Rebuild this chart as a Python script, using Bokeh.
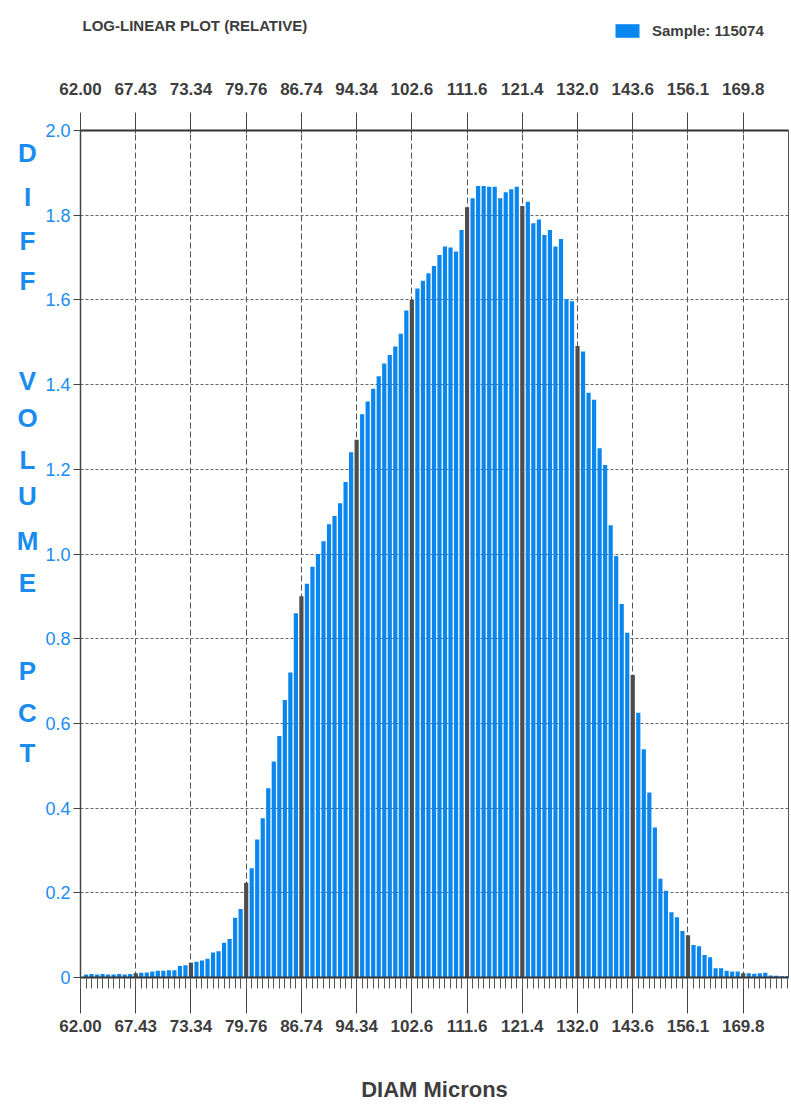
from bokeh.plotting import figure
from bokeh.models import (FixedTicker, LinearAxis, Legend, LegendItem,
                          ColumnDataSource, Range1d)
from bokeh.layouts import column, row
from bokeh.core.properties import value
from bokeh.embed import file_html
from bokeh.resources import INLINE

# ---------------- data ----------------
title_text = "LOG-LINEAR PLOT (RELATIVE)"
legend_text = "Sample: 115074"
x_title = "DIAM Microns"
y_title_letters = ["D", "I", "F", "F", "V", "O", "L", "U", "M", "E", "P", "C", "T"]

diam_tick_labels = ["62.00", "67.43", "73.34", "79.76", "86.74", "94.34", "102.6",
                    "111.6", "121.4", "132.0", "143.6", "156.1", "169.8"]
channels_per_label = 10

channel = list(range(1, 129))
diff_volume_pct = [
    0.007, 0.008, 0.007, 0.008, 0.007, 0.007, 0.008, 0.007, 0.008, 0.010,
    0.011, 0.012, 0.014, 0.016, 0.016, 0.017, 0.017, 0.027, 0.029, 0.035,
    0.037, 0.040, 0.044, 0.059, 0.062, 0.082, 0.091, 0.141, 0.162, 0.224,
    0.258, 0.326, 0.376, 0.447, 0.510, 0.570, 0.655, 0.720, 0.860, 0.900,
    0.930, 0.970, 1.000, 1.030, 1.070, 1.090, 1.120, 1.170, 1.240, 1.270,
    1.330, 1.360, 1.390, 1.420, 1.450, 1.470, 1.490, 1.520, 1.575, 1.600,
    1.627, 1.645, 1.663, 1.680, 1.706, 1.726, 1.724, 1.714, 1.765, 1.819,
    1.840, 1.869, 1.869, 1.867, 1.867, 1.840, 1.854, 1.861, 1.867, 1.822,
    1.832, 1.781, 1.790, 1.753, 1.765, 1.726, 1.744, 1.602, 1.597, 1.491,
    1.478, 1.381, 1.364, 1.250, 1.210, 1.068, 0.995, 0.882, 0.814, 0.714,
    0.625, 0.539, 0.437, 0.354, 0.233, 0.205, 0.154, 0.142, 0.110, 0.100,
    0.077, 0.074, 0.053, 0.048, 0.022, 0.022, 0.016, 0.014, 0.014, 0.010,
    0.010, 0.009, 0.010, 0.011, 0.005, 0.004, 0.003, 0.003,
]
y_ticks = [0, 0.2, 0.4, 0.6, 0.8, 1.0, 1.2, 1.4, 1.6, 1.8, 2.0]
y_tick_labels = ["0", "0.2", "0.4", "0.6", "0.8", "1.0", "1.2", "1.4", "1.6", "1.8", "2.0"]

# ---------------- style ----------------
BLUE = "#0a86ef"
DARK = "#4d4d4d"
TEXT = "#3d3d3d"
LABEL_BLUE = "#1a8cf0"
FONT = "Liberation Sans"

PAGE_W = 791
HEAD_H = 62
LEFT_W = 40
MAIN_W = PAGE_W - LEFT_W
MAIN_H = 1044
BL, BR, BT, BB = 40, 3, 68, 129
X_END = 128.2
Y_END = 2.0
FRAME_TOP = HEAD_H + BT                # page y of the 2.0 line
FRAME_BOTTOM = HEAD_H + MAIN_H - BB    # page y of the 0 line

# ---------------- header (title + legend) ----------------
head = figure(width=PAGE_W, height=HEAD_H, output_backend="svg", toolbar_location=None,
              x_range=Range1d(0, PAGE_W), y_range=Range1d(HEAD_H, 0),
              min_border_left=0, min_border_right=0, min_border_top=0, min_border_bottom=0,
              x_axis_location=None, y_axis_location=None)
head.grid.visible = False
head.outline_line_color = None
head.text(x=[82], y=[25], text=[title_text], text_font=value(FONT),
          text_font_size="15px", text_font_style="bold", text_color=TEXT,
          text_align="left", text_baseline="middle")
# legend proxy renderer, kept outside the visible range
swatch = head.vbar(x=[-100], top=[0], bottom=[0], width=1, fill_color=BLUE, line_color=None)
legend = Legend(items=[LegendItem(label=legend_text, renderers=[swatch])],
                location=(612, HEAD_H - 39))
legend.padding = 0
legend.margin = 0
legend.border_line_color = None
legend.background_fill_alpha = 0
legend.glyph_width = 30
legend.glyph_height = 17
legend.label_height = 17
legend.label_standoff = 10
legend.label_text_font = FONT
legend.label_text_font_size = "15px"
legend.label_text_font_style = "bold"
legend.label_text_color = TEXT
legend.label_text_baseline = "middle"
head.add_layout(legend)

# ---------------- left strip (vertical y title) ----------------
left = figure(width=LEFT_W, height=MAIN_H, output_backend="svg", toolbar_location=None,
              x_range=Range1d(0, LEFT_W), y_range=Range1d(FRAME_BOTTOM, FRAME_TOP),
              min_border_left=0, min_border_right=0, min_border_top=BT, min_border_bottom=BB,
              x_axis_location=None, y_axis_location=None)
left.grid.visible = False
left.outline_line_color = None
letter_page_y = [152, 196, 240, 280, 380, 417, 459, 495, 540, 582, 670, 712, 752]
left.text(x=[27] * len(y_title_letters), y=letter_page_y, text=y_title_letters,
          text_font=value(FONT), text_font_size="26px", text_font_style="bold",
          text_color=LABEL_BLUE, text_align="center", text_baseline="middle")

# ---------------- main chart ----------------
colors = [DARK if c % channels_per_label == 0 else BLUE for c in channel]
src = ColumnDataSource(dict(channel=channel, value=diff_volume_pct, color=colors))

p = figure(width=MAIN_W, height=MAIN_H, output_backend="svg", toolbar_location=None,
           x_range=Range1d(0, X_END), y_range=Range1d(0, Y_END),
           min_border_left=BL, min_border_right=BR,
           min_border_top=BT, min_border_bottom=BB,
           x_axis_location=None, y_axis_location=None)
p.background_fill_color = "white"
p.border_fill_color = "white"
p.outline_line_color = "#555555"
p.outline_line_width = 1

p.vbar(x="channel", top="value", bottom=0, width=0.76,
       fill_color="color", line_color=None, source=src)

major_x = [i * channels_per_label for i in range(len(diam_tick_labels))]
overrides = {t: lab for t, lab in zip(major_x, diam_tick_labels)}

# bottom axis
xb = LinearAxis(ticker=FixedTicker(ticks=major_x, minor_ticks=list(range(0, 129))),
                major_label_overrides=overrides, axis_label=x_title)
xb.axis_line_color = "#333333"
xb.axis_line_width = 2
xb.major_tick_out = 36
xb.major_tick_in = 0
xb.major_tick_line_color = "#444444"
xb.minor_tick_out = 11
xb.minor_tick_in = 0
xb.minor_tick_line_color = "#555555"
xb.major_label_standoff = 6
xb.major_label_text_font = FONT
xb.major_label_text_font_size = "17px"
xb.major_label_text_font_style = "bold"
xb.major_label_text_color = TEXT
xb.axis_label_text_font = FONT
xb.axis_label_text_font_size = "22px"
xb.axis_label_text_font_style = "bold"
xb.axis_label_text_color = TEXT
xb.axis_label_standoff = 42
p.add_layout(xb, "below")

# top axis
xt = LinearAxis(ticker=FixedTicker(ticks=major_x), major_label_overrides=overrides)
xt.axis_line_color = "#333333"
xt.axis_line_width = 2
xt.major_tick_out = 18
xt.major_tick_in = 3
xt.major_tick_line_color = "#444444"
xt.minor_tick_line_color = None
xt.major_label_standoff = 18
xt.major_label_text_font = FONT
xt.major_label_text_font_size = "17px"
xt.major_label_text_font_style = "bold"
xt.major_label_text_color = TEXT
p.add_layout(xt, "above")

# left axis
yl = LinearAxis(ticker=FixedTicker(ticks=y_ticks),
                major_label_overrides={t: s for t, s in zip(y_ticks, y_tick_labels)})
yl.axis_line_color = "#444444"
yl.axis_line_width = 1.5
yl.major_tick_out = 7
yl.major_tick_in = 0
yl.major_tick_line_color = "#444444"
yl.minor_tick_line_color = None
yl.major_label_standoff = 3
yl.major_label_text_font = FONT
yl.major_label_text_font_size = "18px"
yl.major_label_text_color = LABEL_BLUE
p.add_layout(yl, "left")

# grids
p.xgrid.ticker = FixedTicker(ticks=major_x[1:])
p.xgrid.grid_line_color = "#555555"
p.xgrid.grid_line_dash = "6 3"
p.xgrid.grid_line_width = 1
p.ygrid.ticker = FixedTicker(ticks=y_ticks[1:-1])
p.ygrid.grid_line_color = "#666666"
p.ygrid.grid_line_dash = "3 2"
p.ygrid.grid_line_width = 1

layout = column(head, row(left, p, spacing=0), spacing=0)
open("out.html", "w").write(file_html(layout, INLINE))
